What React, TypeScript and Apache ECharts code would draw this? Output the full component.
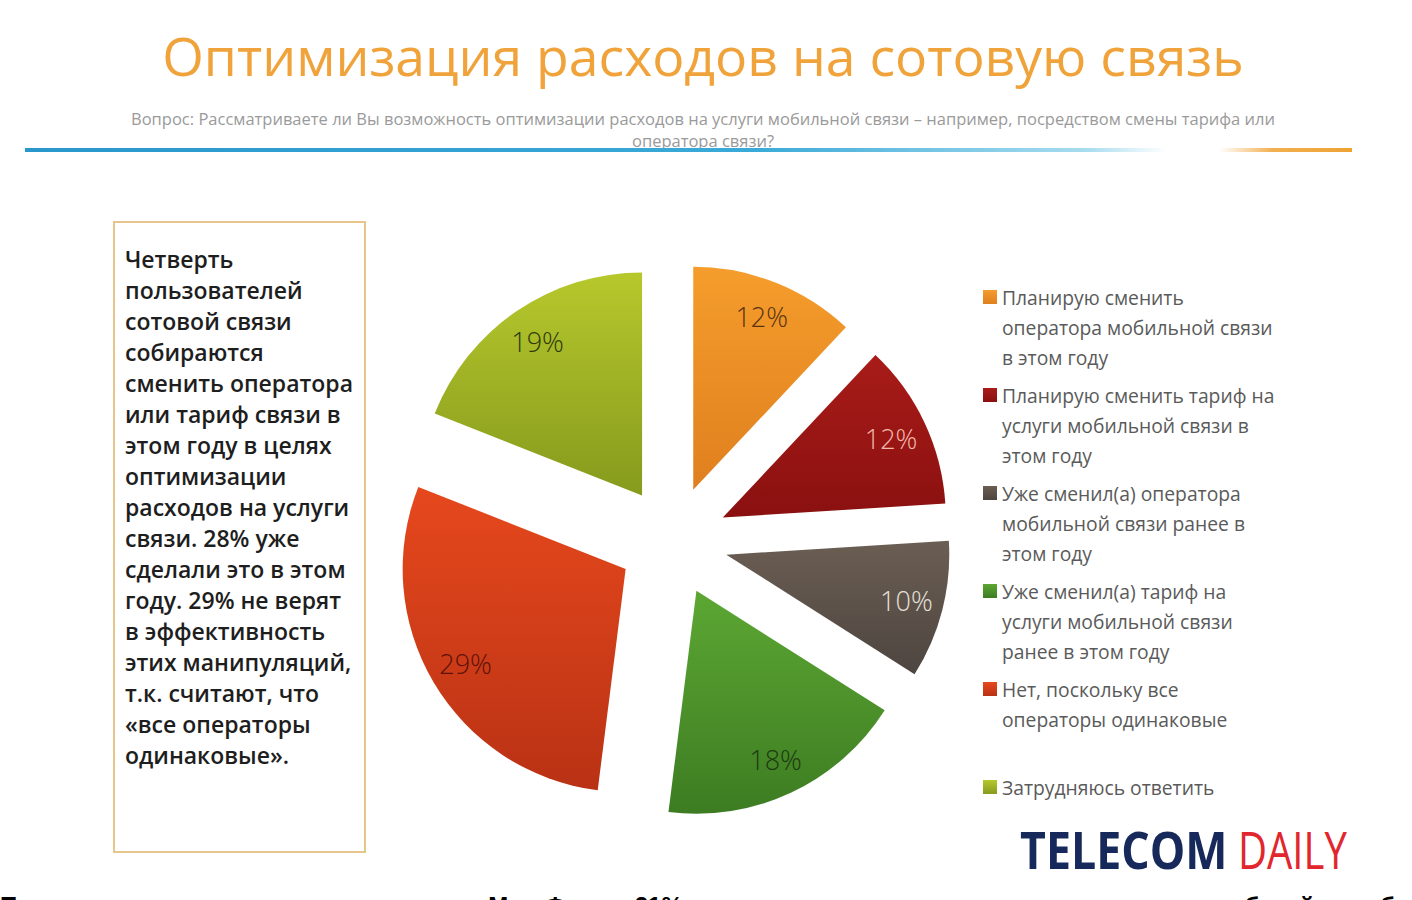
import React, { useEffect, useRef } from "react";
import * as echarts from "echarts";

const titleText = "Оптимизация расходов на сотовую связь";
const subtitleText =
  "Вопрос: Рассматриваете ли Вы возможность оптимизации расходов на услуги мобильной связи – например, посредством смены тарифа или\nоператора связи?";
const boxText =
  "Четверть\nпользователей\nсотовой связи\nсобираются\nсменить оператора\nили тариф связи в\nэтом году в целях\nоптимизации\nрасходов на услуги\nсвязи. 28% уже\nсделали это в этом\nгоду. 29% не верят\nв эффективность\nэтих манипуляций,\nт.к. считают, что\n«все операторы\nодинаковые».";
const bottomText =
  "Планируют сменить оператора клиенты МегаФона – 21% опрошенных, среди которых много тех, кто работой службы поддержки недоволен";

const categories = [
  "Планирую сменить\nоператора мобильной связи\nв этом году",
  "Планирую сменить тариф на\nуслуги мобильной связи в\nэтом году",
  "Уже сменил(а) оператора\nмобильной связи ранее в\nэтом году",
  "Уже сменил(а) тариф на\nуслуги мобильной связи\nранее в этом году",
  "Нет, поскольку все\nоператоры одинаковые",
  "Затрудняюсь ответить",
];
const values = [12, 12, 10, 18, 29, 19];

const colorsTop = ["#f59d2c", "#a81c18", "#6b5e53", "#5ca733", "#e6481d", "#b7c82c"];
const colorsBottom = ["#df7f1e", "#8a1010", "#4d4540", "#3d7c22", "#b93214", "#869a1d"];
const labelColors = ["#5a3412", "#f2b7ae", "#e6e0da", "#1d3a10", "#5c1208", "#2f3b0c"];

const FONT = "'Open Sans', 'Noto Sans', sans-serif";

export default function App() {
  const ref = useRef<HTMLDivElement>(null);
  useEffect(() => {
    if (!ref.current) return;
    const chart = echarts.init(ref.current, undefined, { renderer: "svg" });

    const grad = (i: number) =>
      new echarts.graphic.LinearGradient(0, 0, 0, 1, [
        { offset: 0, color: colorsTop[i] },
        { offset: 1, color: colorsBottom[i] },
      ]);

    const sliceData = values.map((v, i) => ({
      name: categories[i],
      value: v,
      selected: true,
      itemStyle: { color: grad(i) },
    }));
    const labelData = values.map((v, i) => ({
      name: categories[i],
      value: v,
      selected: true,
      label: { color: labelColors[i] },
    }));

    const legendTop = 297;
    const legendStep = 98;
    const legendEls: any[] = [];
    categories.forEach((c, i) => {
      const yc = legendTop + i * legendStep;
      legendEls.push({
        type: "rect",
        shape: { x: 983, y: yc - 7, width: 14, height: 14 },
        style: { fill: grad(i) },
      });
      legendEls.push({
        type: "text",
        x: 1002,
        y: yc - 15,
        style: {
          text: c,
          fill: "#5a5a5a",
          fontFamily: FONT,
          fontSize: 19.3,
          lineHeight: 30,
          textAlign: "left",
          textVerticalAlign: "top",
          align: "left",
          verticalAlign: "top",
        },
      });
    });

    chart.setOption({
      animation: false,
      backgroundColor: "#ffffff",
      series: [
        {
          type: "pie",
          center: [673, 541],
          radius: [0, 223],
          startAngle: 90,
          clockwise: true,
          selectedMode: "multiple",
          selectedOffset: 55,
          avoidLabelOverlap: false,
          label: { show: false },
          labelLine: { show: false },
          select: { itemStyle: { borderWidth: 0 } },
          emphasis: { scale: false },
          data: sliceData,
        },
        {
          type: "pie",
          center: [673, 541],
          radius: [143, 223],
          startAngle: 90,
          clockwise: true,
          selectedMode: "multiple",
          selectedOffset: 55,
          avoidLabelOverlap: false,
          itemStyle: { color: "rgba(0,0,0,0)" },
          select: { itemStyle: { color: "rgba(0,0,0,0)", borderWidth: 0 } },
          emphasis: { scale: false },
          labelLine: { show: false },
          label: {
            show: true,
            position: "inside",
            formatter: "{c}%",
            fontFamily: FONT,
            fontSize: 27,
            fontWeight: 300,
          },
          data: labelData,
        },
      ],
      graphic: [
        {
          type: "text",
          x: 703,
          y: 55,
          style: {
            text: titleText,
            fill: "#f0a33a",
            fontFamily: FONT,
            fontSize: 53.5,
            textAlign: "center",
            textVerticalAlign: "middle",
            align: "center",
            verticalAlign: "middle",
          },
        },
        {
          type: "text",
          x: 703,
          y: 107,
          style: {
            text: subtitleText,
            fill: "#9a9a9a",
            fontFamily: FONT,
            fontSize: 16.5,
            lineHeight: 22,
            textAlign: "center",
            textVerticalAlign: "top",
            align: "center",
            verticalAlign: "top",
          },
        },
        {
          type: "rect",
          shape: { x: 25, y: 148, width: 1327, height: 4 },
          style: {
            fill: new echarts.graphic.LinearGradient(0, 0, 1, 0, [
              { offset: 0, color: "#2a97cc" },
              { offset: 0.55, color: "#3aaad8" },
              { offset: 0.8, color: "#a8dcef" },
              { offset: 0.86, color: "#ffffff" },
              { offset: 0.9, color: "#ffffff" },
              { offset: 0.94, color: "#f2b050" },
              { offset: 1, color: "#eea233" },
            ]),
          },
        },
        {
          type: "rect",
          shape: { x: 114, y: 222, width: 251, height: 630 },
          style: { fill: "#ffffff", stroke: "#e6c68c", lineWidth: 2 },
        },
        {
          type: "text",
          x: 125,
          y: 243.5,
          style: {
            text: boxText,
            fill: "#1e1e1e",
            fontFamily: FONT,
            fontSize: 23,
            fontWeight: 600,
            lineHeight: 31,
            textAlign: "left",
            textVerticalAlign: "top",
            align: "left",
            verticalAlign: "top",
          },
        },
        ...legendEls,
        {
          type: "text",
          x: 1020,
          y: 849,
          scaleX: 0.86,
          style: {
            text: "TELECOM",
            fill: "#16295a",
            fontFamily: FONT,
            fontSize: 52,
            fontWeight: 700,
            textAlign: "left",
            textVerticalAlign: "middle",
            align: "left",
            verticalAlign: "middle",
          },
        },
        {
          type: "text",
          x: 1238,
          y: 849,
          scaleX: 0.77,
          style: {
            text: "DAILY",
            fill: "#e2262d",
            fontFamily: FONT,
            fontSize: 52,
            fontWeight: 400,
            textAlign: "left",
            textVerticalAlign: "middle",
            align: "left",
            verticalAlign: "middle",
          },
        },
        {
          type: "text",
          x: 0,
          y: 893,
          style: {
            text: bottomText,
            fill: "#000000",
            fontFamily: "'Liberation Sans', Arial, sans-serif",
            fontSize: 24,
            fontWeight: 700,
            textAlign: "left",
            textVerticalAlign: "top",
            align: "left",
            verticalAlign: "top",
          },
        },
      ],
    });
    return () => chart.dispose();
  }, []);

  return (
    <div
      ref={ref}
      style={{ position: "fixed", left: 0, top: 0, width: 1412, height: 900, background: "#fff" }}
    />
  );
}
